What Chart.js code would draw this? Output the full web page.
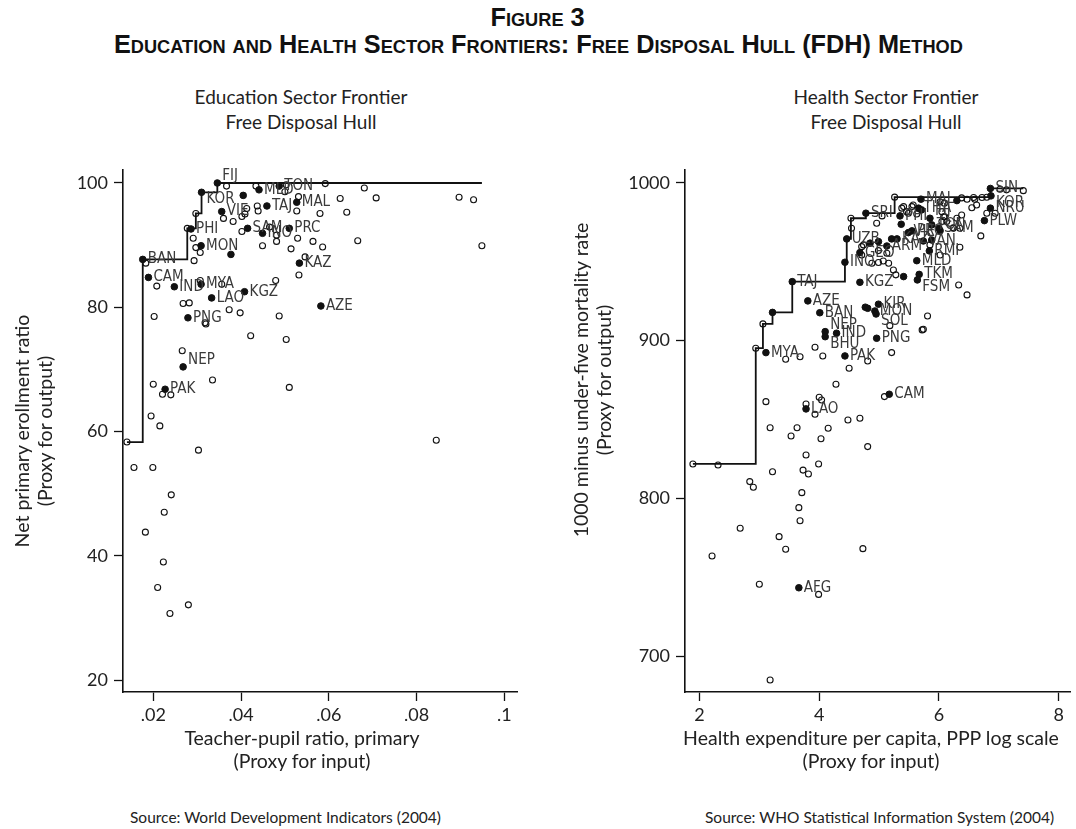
<!DOCTYPE html>
<html>
<head>
<meta charset="utf-8">
<title>Figure 3</title>
<script src="https://cdn.jsdelivr.net/npm/chart.js@4.4.0/dist/chart.umd.min.js"></script>
<style>
  body { margin:0; background:#fff; width:1076px; height:829px; position:relative; overflow:hidden; font-family:Lato, "Open Sans", sans-serif; color:#222; }
  .cap { position:absolute; left:0; width:1076px; text-align:center; white-space:nowrap; font-family:"Liberation Sans", Arial, sans-serif; font-weight:bold; font-variant:small-caps; font-size:25px; line-height:28px; color:#111; }
  .cap span { display:inline-block; transform-origin:center; }
  .sub { position:absolute; width:400px; text-align:center; font-size:19px; line-height:25px; color:#222; }
  .xt { position:absolute; width:500px; text-align:center; font-size:19.5px; line-height:23px; color:#222; white-space:nowrap; }
  .yt { position:absolute; width:420px; height:46px; text-align:center; font-size:19.5px; line-height:23px; color:#222; white-space:nowrap; transform:rotate(-90deg); transform-origin:center; }
  .src { position:absolute; top:807px; font-size:15.5px; line-height:20px; color:#222; white-space:nowrap; }
  canvas { position:absolute; }
</style>
</head>
<body>
<div class="cap" style="top:3px"><span id="t1">Figure 3</span></div>
<div class="cap" style="top:30px"><span id="t2">Education and Health Sector Frontiers: Free Disposal Hull (FDH) Method</span></div>

<div class="sub" style="left:101px; top:84px">Education Sector Frontier<br>Free Disposal Hull</div>
<div class="sub" style="left:686px; top:84px">Health Sector Frontier<br>Free Disposal Hull</div>

<canvas id="edu" width="545" height="630" style="left:0; top:150px"></canvas>
<canvas id="hlth" width="516" height="630" style="left:560px; top:150px"></canvas>

<!-- axis titles -->
<div class="xt" style="left:52px; top:726px">Teacher-pupil ratio, primary<br>(Proxy for input)</div>
<div class="xt" style="left:621px; top:726px">Health expenditure per capita, PPP log scale<br>(Proxy for input)</div>
<div class="yt" style="left:-177px; top:408px">Net primary erollment ratio<br>(Proxy for output)</div>
<div class="yt" style="left:382px; top:357px">1000 minus under-five mortality rate<br>(Proxy for output)</div>

<div class="src" style="left:130px">Source: World Development Indicators (2004)</div>
<div class="src" style="left:705px">Source: WHO Statistical Information System (2004)</div>

<script>
// ====== EDUCATION DATA ======
const eduXTicks = [0.02, 0.04, 0.06, 0.08, 0.1];
const eduYTicks = [20, 40, 60, 80, 100];

// labelled countries (filled dots)
const eduNames = ['BAN','CAM','IND','MYA','LAO','KGZ','PNG','AZE','KAZ','MON','PHI','KOR','FIJ','VIE',
  'MLD','TON','TAJ','MAL','SAM','INO','PRC','NEP','PAK'];
const eduNameX = [0.0176,0.0189,0.0248,0.0309,0.0333,0.0408,0.0279,0.0582,0.0533,0.0309,0.0286,0.0310,0.0346,0.0356,
  0.0441,0.0487,0.0459,0.0527,0.0415,0.0449,0.0510,0.0268,0.0227];
const eduNameY = [87.7,84.8,83.3,83.7,81.5,82.5,78.3,80.2,87.1,89.9,92.6,98.5,100,95.4,
  98.9,99.5,96.3,96.9,92.7,91.9,92.7,70.4,66.8];

// filled dots whose label is hidden
const eduDotX = [0.0377, 0.0405];
const eduDotY = [88.5, 98.0];

// other countries (open circles)
const eduOpenX = [0.0183,0.0208,0.0202,0.0268,0.0282,0.0318,0.0320,0.0307,0.0356,0.0373,0.0398,0.0487,0.0479,0.0422,
  0.0503,0.0532,0.0546,0.0293,0.0297,0.0307,0.0291,0.02775,0.0297,0.0367,0.0434,0.0500,0.0503,0.0531,0.0592,
  0.0626,0.0641,0.0580,0.0527,0.0437,0.0439,0.0413,0.0409,0.0402,0.0382,0.0360,0.0402,0.0465,0.0481,0.0481,
  0.0449,0.0514,0.0529,0.0564,0.0586,0.0666,0.0266,0.0335,0.0200,0.0221,0.0240,0.0510,0.0195,0.0215,0.0303,
  0.0156,0.0199,0.0241,0.0225,0.0182,0.0223,0.0210,0.0280,0.0238,0.0681,0.0708,0.0897,0.0930,0.0949,0.0140,0.0845];
const eduOpenY = [87.1,83.4,78.5,80.6,80.7,77.5,77.3,84.3,83.7,79.6,79.1,78.6,84.3,75.4,
  74.8,85.2,88.1,87.5,89.6,88.8,91.1,92.7,95.1,99.5,99.5,98.6,99.7,97.8,99.9,
  97.5,95.3,95.1,95.5,96.3,95.5,95.9,95.0,94.6,93.8,94.3,92.2,92.9,91.6,90.6,
  89.9,89.4,91.1,90.6,89.7,90.7,73.0,68.3,67.6,66.0,65.9,67.1,62.5,60.9,57.0,
  54.2,54.2,49.8,47.0,43.8,39.0,34.9,32.1,30.7,99.2,97.6,97.7,97.3,89.9,58.3,58.6];

// ====== HEALTH DATA ======
const hlthXTicks = [2, 4, 6, 8];
const hlthYTicks = [700, 800, 900, 1000];

const hlthNames = ['SIN','KOR','NRU','PLW','MAL','SRI','UZB','INO','TAJ','KGZ','AZE','BAN','KIR','MON','SOL',
  'NEP','BHU','IND','PAK','PNG','MYA','CAM','LAO','AFG','MLD','TKM','FSM','RMI',
  'PHI','VIE','THA','FIJ','TON','SAM','PRC','KAZ','ARM','GEO','VAN'];
const hlthNameX = [6.86,6.87,6.86,6.76,5.70,4.78,4.46,4.43,3.55,4.68,3.81,4.01,4.99,4.93,4.95,
  4.10,4.10,4.29,4.43,4.96,3.11,5.17,3.78,3.66,5.63,5.67,5.64,5.84,
  5.35,5.49,5.66,5.85,5.88,6.00,5.55,5.30,5.13,4.68,5.74];
const hlthNameY = [996.5,991.8,984.0,976.1,989.7,980.8,964.5,949.7,937.4,937.0,925.2,917.7,923.1,918.8,916.9,
  905.7,902.5,904.7,890.3,901.5,892.4,866.0,856.7,743.3,950.7,942.0,938.5,956.9,
  979.1,968.5,984.0,977.6,973.4,971.3,969.6,964.5,960.0,955.8,963.2];

const hlthDotX = [3.22,4.77,4.81,5.37,5.71,6.02,5.21,4.85,4.99,5.88,5.41,6.30];
const hlthDotY = [917.9,921.2,920.5,973.8,982.9,969.7,964.5,961.8,962.8,963.8,940.6,988.8];

const hlthOpenX = [1.89,2.94,3.06,5.26,4.96,5.05,5.41,5.49,5.57,5.63,6.02,6.09,6.05,6.08,6.13,6.24,6.35,6.30,6.38,
  6.38,6.47,6.58,6.60,6.72,6.80,6.55,6.63,6.80,6.94,7.02,7.13,7.41,6.70,6.35,4.99,5.13,4.71,4.99,5.24,5.28,
  6.33,6.47,5.81,5.74,5.18,4.54,4.53,3.44,3.68,3.93,4.06,4.50,4.81,5.21,5.72,4.28,5.09,3.11,4.00,4.04,3.78,
  3.93,4.48,4.68,3.18,3.63,3.53,4.15,4.03,4.81,3.78,3.99,3.22,3.73,3.82,2.84,2.31,2.90,3.71,3.66,3.68,2.68,
  3.33,3.44,4.73,3.00,3.99,3.18,2.21,5.38,5.46,5.55,6.05,6.10,6.24,4.74,4.71,5.07,5.16,4.88,6.02,5.85];
const hlthOpenY = [821.8,895.2,910.6,991.0,974.4,979.1,985.0,980.8,986.0,980.3,988.1,987.1,981.8,978.6,975.5,971.3,971.3,977.6,979.7,
  990.5,989.7,990.8,989.7,990.8,990.9,984.3,986.0,980.8,980.8,996.0,995.6,995.1,966.4,959.2,957.1,955.4,959.6,949.5,944.8,941.7,
  935.3,929.0,915.6,907.2,909.5,971.3,977.6,888.2,889.8,895.8,890.3,882.5,887.1,892.4,906.8,872.3,864.5,861.3,864.1,862.4,859.8,
  853.3,849.7,850.8,844.8,844.8,839.5,844.4,837.8,832.8,827.5,821.8,816.9,817.9,815.4,810.6,821.1,807.0,803.6,794.1,785.8,781.0,
  775.7,767.7,768.1,745.5,739.1,684.8,763.4,984.0,981.8,985.0,975.5,978.6,971.6,960.7,954.3,950.5,949.1,949.1,954.3,960.7];

// ====== HELPERS ======
const INK = '#111';
const AXIS_FONT = 'Lato, "Open Sans", sans-serif';
const LABEL_FONT = '15px "Liberation Sans Narrow", "DejaVu Sans Condensed", sans-serif';
// Stata-like clock position for a few labels (3 o'clock is default)
const labelClock = { FIJ: 2, KOR: 4, NEP: 2, BHU: 4, SOL: 4, FSM: 4 };

function pts(xs, ys) {
  return xs.map((x, i) => ({ x, y: ys[i] }));
}

// free disposal hull: running max of output over increasing input
function fdh(all) {
  const sorted = all.slice().sort((a, b) => a.x - b.x);
  const path = [];
  let best = -Infinity;
  sorted.forEach(p => {
    if (p.y > best) {
      if (path.length) path.push({ x: p.x, y: best });
      path.push({ x: p.x, y: p.y });
      best = p.y;
    }
  });
  path.push({ x: sorted[sorted.length - 1].x, y: best });
  return path;
}

const pointLabels = {
  id: 'pointLabels',
  afterDatasetsDraw(chart) {
    const ctx = chart.ctx;
    chart.data.datasets.forEach((ds, i) => {
      if (!ds.names) return;
      const meta = chart.getDatasetMeta(i);
      ctx.save();
      ctx.font = LABEL_FONT;
      ctx.fillStyle = '#3a3a3a';
      ctx.textBaseline = 'middle';
      meta.data.forEach((el, j) => {
        const name = ds.names[j];
        const clock = labelClock[name] || 3;
        const dy = clock === 2 ? -7 : clock === 4 ? 7 : 0;
        ctx.fillText(name, el.x + 5, el.y + dy);
      });
      ctx.restore();
    });
  }
};

function axis(opts) {
  return {
    type: 'linear',
    min: opts.min,
    max: opts.max,
    afterBuildTicks: s => { s.ticks = opts.ticks.map(v => ({ value: v })); },
    afterFit: opts.fit,
    grid: { drawOnChartArea: false, drawTicks: true, tickLength: 9, tickColor: INK, tickWidth: 1.3 },
    border: { display: true, color: INK, width: 1.6 },
    ticks: { color: '#222', padding: opts.pad, maxRotation: 0, autoSkip: false,
      font: { family: AXIS_FONT, size: 18 }, callback: opts.fmt },
    title: { display: false }
  };
}

function makeChart(el, cfg) {
  const all = pts(cfg.openX, cfg.openY).concat(pts(cfg.dotX, cfg.dotY), pts(cfg.nameX, cfg.nameY));
  return new Chart(el, {
    type: 'scatter',
    data: {
      datasets: [
        { data: fdh(all), showLine: true, pointRadius: 0, borderColor: INK, borderWidth: 1.8, order: 3 },
        { data: pts(cfg.openX, cfg.openY), pointRadius: 3, pointHoverRadius: 3, pointBorderWidth: 1.1,
          pointBorderColor: INK, pointBackgroundColor: 'rgba(0,0,0,0)', order: 2 },
        { data: pts(cfg.dotX, cfg.dotY), pointRadius: 3.3, pointHoverRadius: 3.3, pointBorderWidth: 1,
          pointBorderColor: INK, pointBackgroundColor: INK, order: 1 },
        { data: pts(cfg.nameX, cfg.nameY), names: cfg.names, pointRadius: 3.3, pointHoverRadius: 3.3,
          pointBorderWidth: 1, pointBorderColor: INK, pointBackgroundColor: INK, order: 0 }
      ]
    },
    options: {
      responsive: false,
      animation: false,
      events: [],
      layout: { padding: { top: 20, right: cfg.padRight, left: 0, bottom: 0 } },
      plugins: { legend: { display: false }, tooltip: { enabled: false } },
      scales: { x: cfg.x, y: cfg.y }
    },
    plugins: [pointLabels]
  });
}

// ====== CHARTS ======
makeChart(document.getElementById('edu'), {
  names: eduNames, nameX: eduNameX, nameY: eduNameY,
  dotX: eduDotX, dotY: eduDotY, openX: eduOpenX, openY: eduOpenY,
  padRight: 28,
  x: axis({ min: 0.0131, max: 0.1029, ticks: eduXTicks, pad: 3,
    fit: s => { s.height = 88; }, fmt: v => String(v).replace(/^0\./, '.') }),
  y: axis({ min: 18.07, max: 102.09, ticks: eduYTicks, pad: 6,
    fit: s => { s.width = 123; }, fmt: v => String(v) })
});

makeChart(document.getElementById('hlth'), {
  names: hlthNames, nameX: hlthNameX, nameY: hlthNameY,
  dotX: hlthDotX, dotY: hlthDotY, openX: hlthOpenX, openY: hlthOpenY,
  padRight: 6,
  x: axis({ min: 1.758, max: 8.19, ticks: hlthXTicks, pad: 3,
    fit: s => { s.height = 88; }, fmt: v => String(v) }),
  y: axis({ min: 677.2, max: 1008.2, ticks: hlthYTicks, pad: 6,
    fit: s => { s.width = 125; }, fmt: v => String(v) })
});

// stretch the figure caption to the width of the printed one
const t2 = document.getElementById('t2');
const k = 849 / t2.getBoundingClientRect().width;
t2.style.transform = 'scaleX(' + k + ')';
document.getElementById('t1').style.transform = 'scaleX(' + k + ')';
</script>
</body>
</html>
